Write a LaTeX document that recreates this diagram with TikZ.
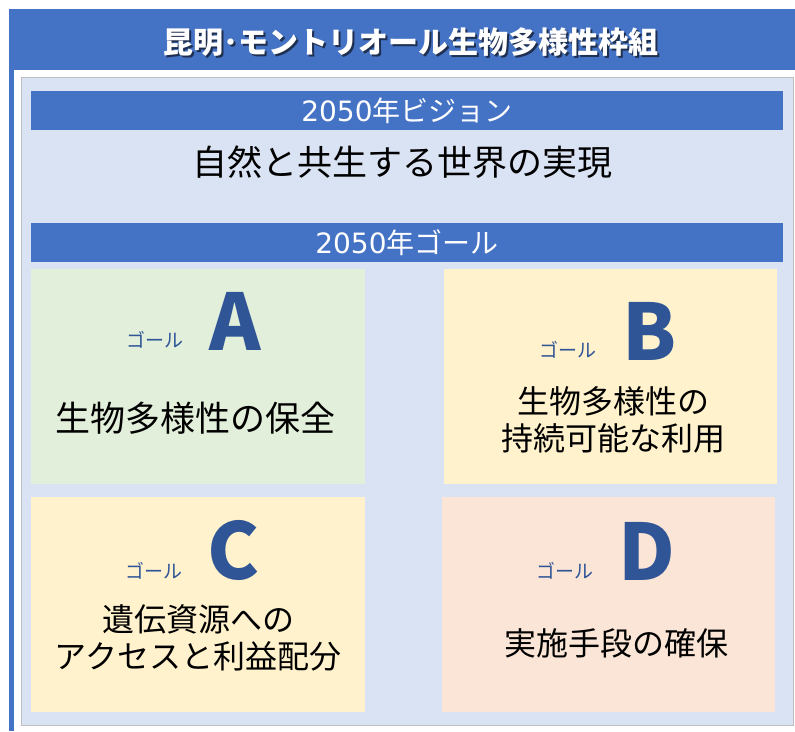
\documentclass[tikz,border=0pt]{standalone}
\usepackage{fontspec}
\setmainfont{Noto Sans CJK JP}
\newfontfamily\jp{Noto Sans CJK JP}
\newfontfamily\digitfont{DejaVu Sans}
\definecolor{barblue}{HTML}{4472C4}
\definecolor{letterblue}{HTML}{2F5597}
\definecolor{panelblue}{HTML}{DAE3F3}
\definecolor{boxgreen}{HTML}{E2EFDA}
\definecolor{boxyellow}{HTML}{FFF2CC}
\definecolor{boxpeach}{HTML}{FBE5D6}
\definecolor{shadowblue}{HTML}{1F2F4F}
\newcommand{\shadowedtext}[1]{\makebox[0pt][l]{\kern2pt\raisebox{-2pt}{\color{shadowblue}#1}}#1}
\tikzset{
  bar/.style={fill=barblue, draw=none, anchor=north west, minimum width=752pt, minimum height=39pt, inner sep=0pt},
  bartext/.style={text=white, font=\jp\fontsize{28}{30}\selectfont, inner sep=0pt},
  goalbox/.style={draw=none, anchor=north west, minimum width=334pt, minimum height=215pt, inner sep=0pt},
  goallabel/.style={text=letterblue, font=\jp\fontsize{19}{22}\selectfont, inner sep=0pt},
  goalletter/.style={text=letterblue, font=\jp\bfseries\fontsize{78}{80}\selectfont, inner sep=0pt, anchor=base},
  goaltext/.style={text=black, font=\jp\fontsize{32}{37.5}\selectfont, align=center, inner sep=0pt},
}
\begin{document}
\begin{tikzpicture}[x=1pt,y=-1pt]
\useasboundingbox (0,0) rectangle (795,731);
% outer frame
\fill[barblue] (9,9) rectangle (795,731);
\fill[white] (14,70) rectangle (795,731);
% title
\node[text=white, font=\jp\bfseries\fontsize{30}{32}\selectfont, inner sep=0pt] (title) at (411,43) {\shadowedtext{昆明･モントリオール生物多様性枠組}};
% panel
\node[fill=panelblue, draw=black!25, line width=0.8pt, anchor=north west, minimum width=772pt, minimum height=648pt, inner sep=0pt] (panel) at (21,77) {};
% vision
\node[bar] (visionbar) at (31,91) {};
\node[bartext] (visiontitle) at (407,111) {{\digitfont 2050}年ビジョン};
\node[text=black, font=\jp\fontsize{35}{40}\selectfont, inner sep=0pt] (vision) at (402,162) {自然と共生する世界の実現};
% goals bar
\node[bar] (goalbar) at (31,223) {};
\node[bartext] (goaltitle) at (407,243) {{\digitfont 2050}年ゴール};
% boxes
\node[goalbox, fill=boxgreen] (boxA) at (31,269) {};
\node[goalbox, fill=boxyellow, minimum width=333pt] (boxB) at (444,269) {};
\node[goalbox, fill=boxyellow] (boxC) at (31,497) {};
\node[goalbox, fill=boxpeach, minimum width=333pt] (boxD) at (442,497) {};
% A
\node[goallabel] (labA) at (154.5,340) {ゴール};
\node[goalletter] (letA) at (235,350) {A};
\node[goaltext, font=\jp\fontsize{35}{40}\selectfont] (txtA) at (195,418) {生物多様性の保全};
% B
\node[goallabel] (labB) at (567.5,350) {ゴール};
\node[goalletter] (letB) at (650,360) {B};
\node[goaltext] (txtB) at (613,420) {生物多様性の\\持続可能な利用};
% C
\node[goallabel] (labC) at (154,571) {ゴール};
\node[goalletter] (letC) at (234,579) {C};
\node[goaltext] (txtC) at (198,638) {遺伝資源への\\アクセスと利益配分};
% D
\node[goallabel] (labD) at (565,570.5) {ゴール};
\node[goalletter] (letD) at (647,580) {D};
\node[goaltext] (txtD) at (616,643) {実施手段の確保};
\end{tikzpicture}
\end{document}
